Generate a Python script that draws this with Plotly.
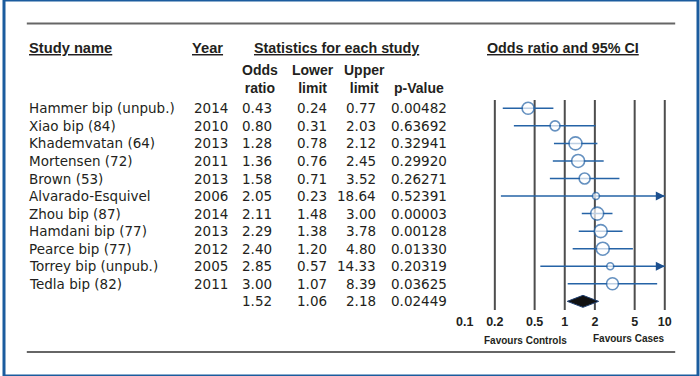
import math
import plotly.graph_objects as go

# ---------------- data ----------------
studies = ["Hammer bip (unpub.)", "Xiao bip (84)", "Khademvatan (64)", "Mortensen (72)",
           "Brown (53)", "Alvarado-Esquivel", "Zhou bip (87)", "Hamdani bip (77)",
           "Pearce bip (77)", "Torrey bip (unpub.)", "Tedla bip (82)"]
years = ["2014", "2010", "2013", "2011", "2013", "2006", "2014", "2013", "2012", "2005", "2011"]
odds_ratio = [0.43, 0.80, 1.28, 1.36, 1.58, 2.05, 2.11, 2.29, 2.40, 2.85, 3.00]
lower_limit = [0.24, 0.31, 0.78, 0.76, 0.71, 0.23, 1.48, 1.38, 1.20, 0.57, 1.07]
upper_limit = [0.77, 2.03, 2.12, 2.45, 3.52, 18.64, 3.00, 3.78, 4.80, 14.33, 8.39]
p_values = ["0.00482", "0.63692", "0.32941", "0.29920", "0.26271", "0.52391",
            "0.00003", "0.00128", "0.01330", "0.20319", "0.03625"]
summary_or = 1.52
summary_lower = 1.06
summary_upper = 2.18
summary_p = "0.02449"
tick_values = [0.1, 0.2, 0.5, 1, 2, 5, 10]
tick_labels = ["0.1", "0.2", "0.5", "1", "2", "5", "10"]
grid_values = [0.2, 0.5, 1, 2, 5, 10]

# ---------------- style / layout ----------------
marker_px = [12, 10, 13, 13, 11, 7, 13, 13, 13, 7, 12]
W, H = 700, 376
ROW0 = 108.3
STEP = 17.55
AX_MIN, AX_MAX = 0.1, 10
PX_PER_DEC = 100.9
X01_PX = 464.7          # pixel of 0.1
PAD_DEC = 0.05
BLUE = "#2563a6"
TXT = "#231f20"
REG = "DejaVu Sans"
BOLD = "Liberation Sans"
Y_BOTTOM_PX = 312


def yv(p):
    return (ROW0 - p) / STEP


def xp(p):
    return p / W


def yp(p):
    return 1 - p / H


n = len(studies)
rows = [-i for i in range(n)]
sum_row = -n

fig = go.Figure()

# grid lines
gx, gy = [], []
for g in grid_values:
    gx += [g, g, None]
    gy += [yv(100), yv(310), None]
fig.add_trace(go.Scatter(x=gx, y=gy, mode="lines", line=dict(color="#4d4d4d", width=2),
                         hoverinfo="skip", showlegend=False))

# CI lines
for i in range(n):
    fig.add_trace(go.Scatter(x=[lower_limit[i], min(upper_limit[i], AX_MAX)], y=[rows[i], rows[i]],
                             mode="lines", line=dict(color=BLUE, width=1.5),
                             hoverinfo="skip", showlegend=False))

# point estimates
fig.add_trace(go.Scatter(x=odds_ratio, y=rows, mode="markers",
                         marker=dict(symbol="circle", size=marker_px, color="white",
                                     line=dict(color=BLUE, width=1.6)),
                         showlegend=False))

# summary diamond
h = 6 / STEP
fig.add_trace(go.Scatter(x=[summary_lower, summary_or, summary_upper, summary_or, summary_lower],
                         y=[sum_row, sum_row + h, sum_row, sum_row - h, sum_row],
                         mode="lines", fill="toself", fillcolor="#111111",
                         line=dict(color="#1f3f70", width=1), showlegend=False))

annotations = []
# arrows for truncated CIs
for i in range(n):
    if upper_limit[i] > AX_MAX:
        annotations.append(dict(x=math.log10(AX_MAX), y=rows[i], xref="x", yref="y",
                                ax=math.log10(AX_MAX) - 0.1, ay=rows[i], axref="x", ayref="y",
                                text="", showarrow=True, arrowhead=2, arrowsize=1.2,
                                arrowwidth=1.5, arrowcolor="#1c4f8e", standoff=0))

# table text
def txt(x, y, s, anchor, font=REG, size=13.5, bold=False, yref="y"):
    annotations.append(dict(x=xp(x), y=y, xref="paper", yref=yref, text=s, showarrow=False,
                            xanchor=anchor, yanchor="middle",
                            font=dict(family=font, size=size, color=TXT,
                                      weight="bold" if bold else "normal")))

for i in range(n):
    txt(23, rows[i], studies[i], "left")
    txt(190, rows[i], years[i], "left")
    txt(272.5, rows[i], f"{odds_ratio[i]:.2f}", "right")
    txt(327.5, rows[i], f"{lower_limit[i]:.2f}", "right")
    txt(377.5, rows[i], f"{upper_limit[i]:.2f}", "right")
    txt(448.5, rows[i], p_values[i], "right")
txt(272.5, sum_row, f"{summary_or:.2f}", "right")
txt(327.5, sum_row, f"{summary_lower:.2f}", "right")
txt(377.5, sum_row, f"{summary_upper:.2f}", "right")
txt(448.5, sum_row, summary_p, "right")

# headers
txt(23, yv(48), "<u>Study name</u>", "left", BOLD, 14.7, True)
txt(205, yv(48), "<u>Year</u>", "center", BOLD, 14.7, True)
txt(335.5, yv(48), "<u>Statistics for each study</u>", "center", BOLD, 14.3, True)
txt(563.5, yv(48), "<u>Odds ratio and 95% CI</u>", "center", BOLD, 14.3, True)
txt(258, yv(79), "Odds<br>ratio", "center", BOLD, 14, True)
txt(311.5, yv(79), "Lower<br>limit", "center", BOLD, 14, True)
txt(363.5, yv(79), "Upper<br>limit", "center", BOLD, 14, True)
txt(419, yv(88), "p-Value", "center", BOLD, 14, True)

# favours labels
txt(526.5, yp(340), "Favours Controls", "center", BOLD, 10, True, yref="paper")
txt(630.5, yp(338), "Favours Cases", "center", BOLD, 10, True, yref="paper")

shapes = [
    dict(type="line", xref="paper", yref="paper", x0=xp(23), x1=xp(677), y0=yp(23.5), y1=yp(23.5),
         line=dict(color="#666666", width=2)),
    dict(type="line", xref="paper", yref="paper", x0=xp(23), x1=xp(677), y0=yp(352), y1=yp(352),
         line=dict(color="#666666", width=2)),
    dict(type="rect", xref="paper", yref="paper", x0=0, x1=1, y0=0, y1=1,
         line=dict(color="#1b5c9e", width=3)),
]

left_px = X01_PX - PAD_DEC * PX_PER_DEC
right_px = X01_PX + (math.log10(AX_MAX) - math.log10(AX_MIN) + PAD_DEC) * PX_PER_DEC

fig.update_layout(
    width=W, height=H, margin=dict(l=0, r=0, t=0, b=0),
    paper_bgcolor="white", plot_bgcolor="white",
    showlegend=False, annotations=annotations, shapes=shapes,
    xaxis=dict(type="log", domain=[xp(left_px), xp(right_px)],
               range=[math.log10(AX_MIN) - PAD_DEC, math.log10(AX_MAX) + PAD_DEC],
               tickvals=tick_values, ticktext=tick_labels, ticks="",
               showgrid=False, zeroline=False, showline=False, fixedrange=True,
               tickfont=dict(family=BOLD, size=12.5, color=TXT, weight="bold")),
    yaxis=dict(domain=[yp(Y_BOTTOM_PX), 1], range=[yv(Y_BOTTOM_PX), yv(0)], fixedrange=True,
               showgrid=False, zeroline=False, showline=False, showticklabels=False, ticks=""),
)

fig.write_html("out.html", config={"displayModeBar": False, "staticPlot": True},
               post_script="document.body.style.margin='0px';document.body.style.overflow='hidden';")
